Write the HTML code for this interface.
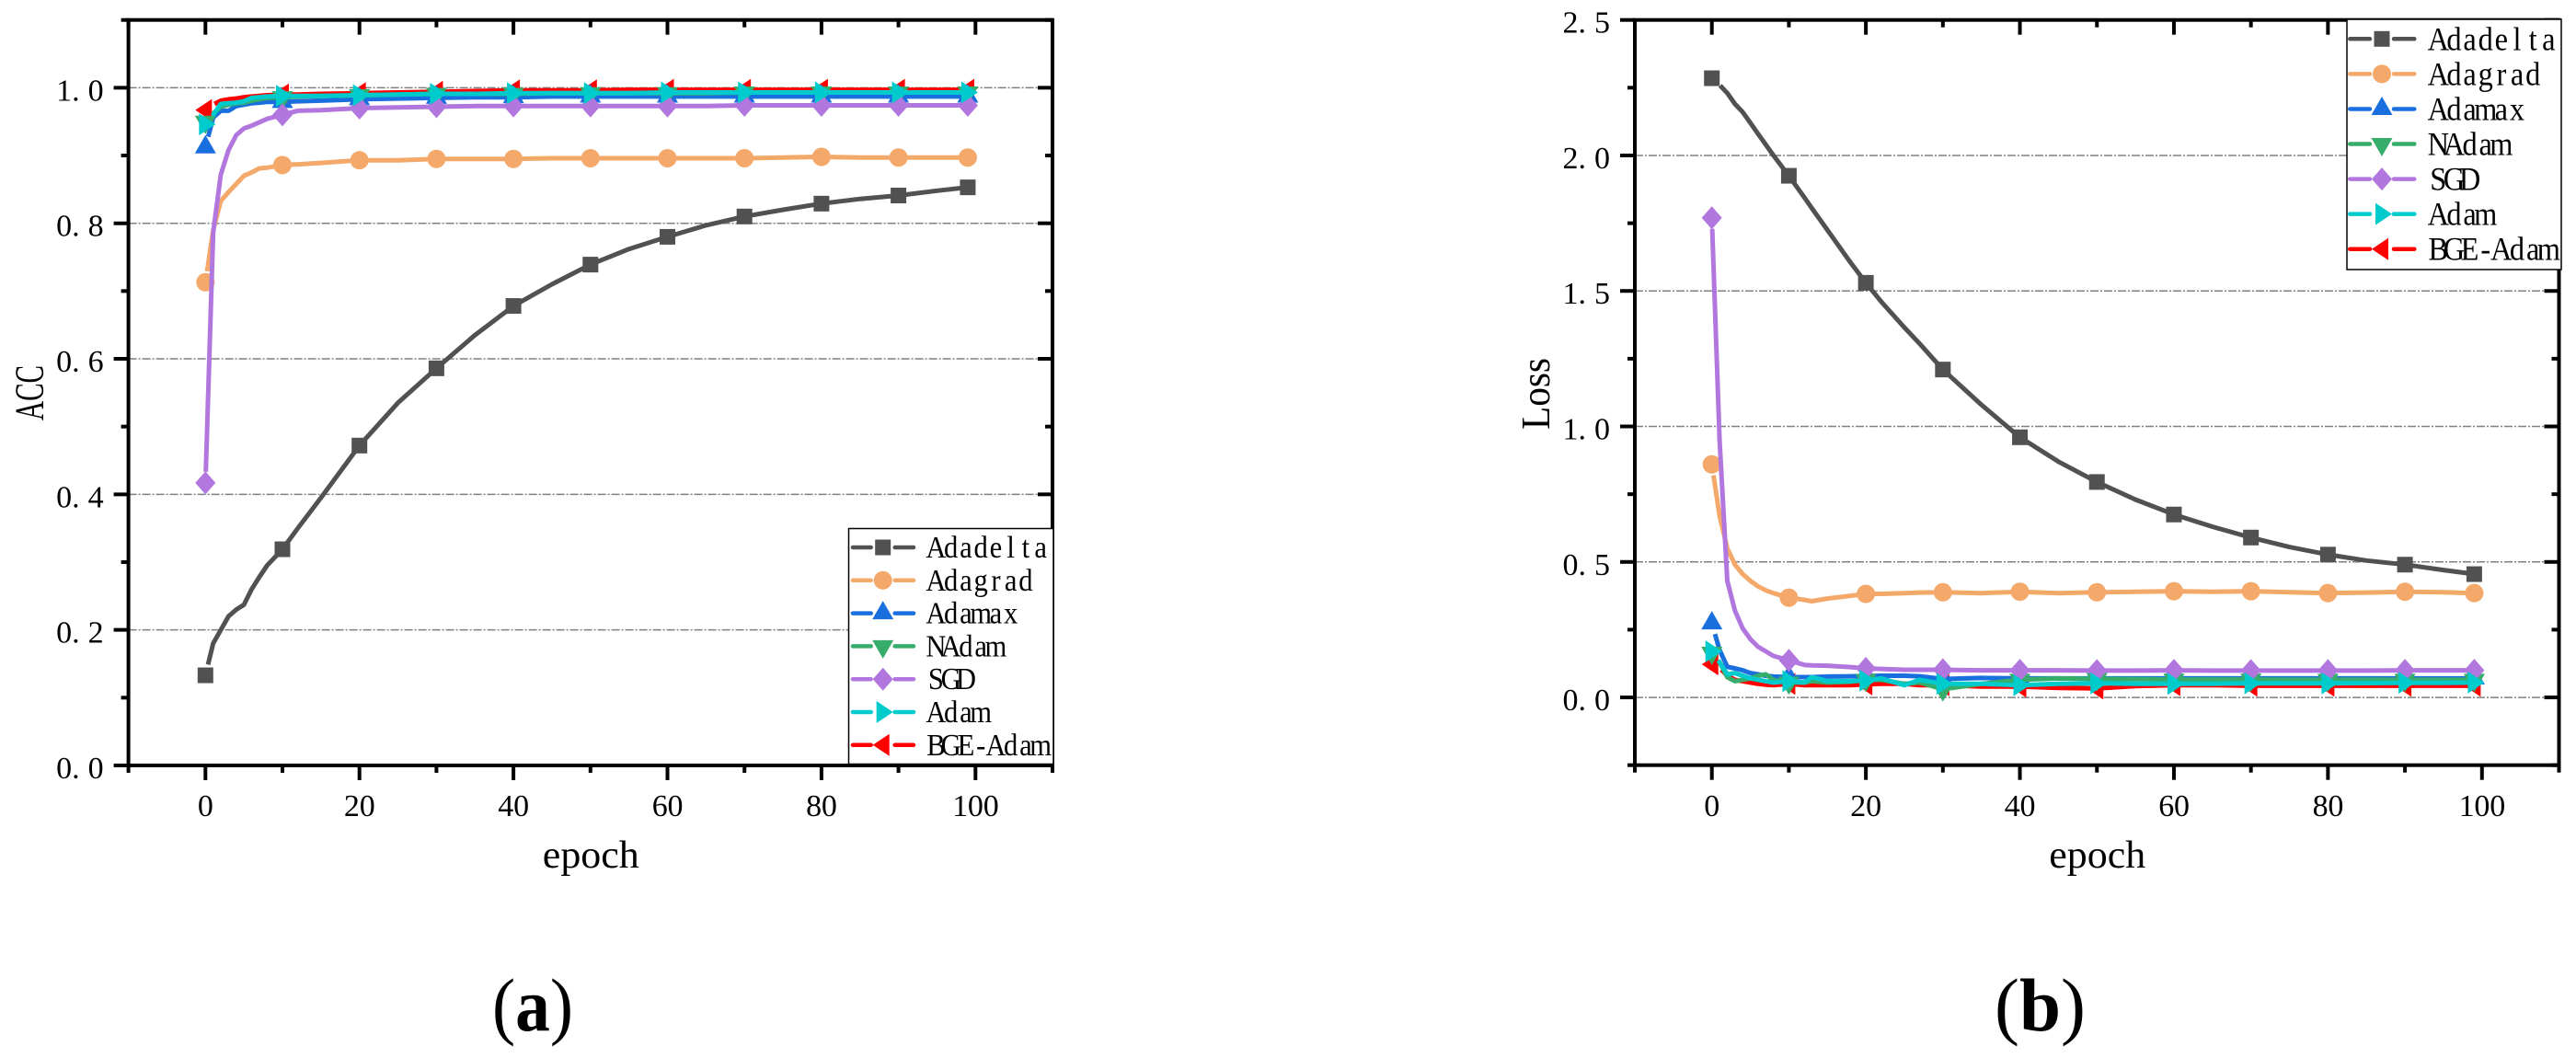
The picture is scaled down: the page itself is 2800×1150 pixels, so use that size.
<!DOCTYPE html>
<html lang="en">
<head>
<meta charset="utf-8">
<title>ACC and Loss curves per optimizer</title>
<style>
  html, body { margin: 0; padding: 0; background: #ffffff; }
  #chart-root { display: block; }
  text { font-family: "Liberation Serif", serif; fill: #000000; }
</style>
</head>
<body>
<svg id="chart-root" xmlns="http://www.w3.org/2000/svg" width="2800" height="1150" viewBox="0 0 2800 1150"></svg>
<script>
const epochsA = [0,1,2,3,4,5,6,7,8,10,12,15,20,25,30,35,40,45,50,55,60,65,70,75,80,85,90,95,99];
const epochsB = [0,1,2,3,4,5,6,7,8,10,12,13,15,18,20,22,25,27,30,35,40,45,50,55,60,65,70,75,80,85,90,95,99];
const markerEpochs = [0,10,20,30,40,50,60,70,80,90,99];

const seriesNames = ['Adadelta','Adagrad','Adamax','NAdam','SGD','Adam','BGE-Adam'];

const accAdadelta = [.133,.18,.2,.22,.23,.237,.26,.278,.295,.319,.35,.395,.472,.535,.586,.635,.678,.71,.739,.762,.78,.797,.81,.82,.829,.836,.841,.848,.853];
const accAdagrad = [.713,.79,.833,.846,.858,.87,.875,.881,.882,.886,.887,.889,.893,.893,.895,.895,.895,.896,.896,.896,.896,.896,.896,.897,.898,.897,.897,.897,.897];
const accAdamax = [.912,.956,.966,.966,.973,.975,.977,.978,.979,.979,.98,.981,.983,.984,.985,.986,.986,.987,.987,.987,.987,.987,.987,.987,.987,.987,.987,.987,.987];
const accNAdam = [.95,.962,.972,.975,.977,.978,.981,.983,.985,.986,.987,.988,.989,.99,.991,.991,.991,.992,.992,.992,.992,.992,.993,.993,.993,.993,.993,.993,.993];
const accSGD = [.417,.786,.872,.908,.93,.94,.944,.949,.954,.96,.966,.967,.97,.971,.972,.973,.973,.973,.973,.973,.973,.973,.974,.974,.974,.974,.974,.974,.974];
const accAdam = [.946,.96,.976,.977,.978,.98,.985,.986,.987,.988,.988,.988,.989,.99,.991,.991,.992,.992,.992,.992,.993,.993,.993,.993,.993,.993,.993,.993,.993];
const accBGE = [.967,.975,.981,.983,.984,.986,.987,.988,.989,.99,.99,.991,.992,.993,.994,.995,.996,.996,.996,.997,.997,.997,.997,.997,.997,.997,.997,.997,.997];

const lossAdadelta = [2.285,2.26,2.23,2.19,2.16,2.12,2.08,2.04,2.0,1.925,1.845,1.805,1.725,1.605,1.53,1.46,1.365,1.305,1.21,1.08,.96,.87,.795,.73,.675,.63,.59,.555,.527,.505,.49,.47,.455];
const lossAdagrad = [.86,.67,.55,.49,.455,.43,.41,.395,.385,.368,.36,.355,.365,.375,.382,.382,.385,.387,.388,.385,.39,.385,.388,.39,.392,.39,.392,.388,.385,.387,.39,.388,.385];
const lossAdamax = [.273,.175,.113,.107,.1,.09,.085,.08,.077,.075,.075,.075,.077,.078,.079,.08,.08,.078,.068,.072,.07,.07,.07,.07,.07,.07,.07,.07,.07,.07,.07,.07,.07];
const lossNAdam = [.165,.13,.075,.06,.065,.07,.08,.085,.065,.055,.055,.06,.055,.058,.065,.065,.05,.055,.03,.05,.065,.07,.068,.067,.066,.066,.066,.065,.065,.065,.065,.065,.065];
const lossSGD = [1.77,.95,.43,.32,.255,.215,.187,.17,.153,.137,.12,.118,.117,.112,.107,.105,.102,.102,.102,.1,.1,.1,.099,.099,.1,.099,.099,.099,.099,.099,.1,.1,.1];
const lossAdam = [.17,.13,.085,.09,.08,.07,.065,.06,.055,.06,.055,.075,.06,.06,.062,.07,.045,.065,.05,.05,.045,.05,.052,.05,.05,.05,.052,.052,.052,.053,.054,.054,.055];
const lossBGE = [.122,.11,.08,.065,.06,.055,.05,.047,.045,.05,.045,.045,.045,.045,.048,.05,.05,.045,.045,.04,.04,.035,.033,.042,.045,.045,.043,.043,.043,.043,.043,.043,.043];

const xMajorTicks = [0,20,40,60,80,100];
const xMinorTicks = [-10,10,30,50,70,90,110];
const accMajorTicks = [0,0.2,0.4,0.6,0.8,1.0];
const accMinorTicks = [0.1,0.3,0.5,0.7,0.9,1.1];
const accGridTicks = [0.2,0.4,0.6,0.8,1.0];
const lossMajorTicks = [0,0.5,1.0,1.5,2.0,2.5];
const lossMinorTicks = [-0.25,0.25,0.75,1.25,1.75,2.25];
const lossGridTicks = [0,0.5,1.0,1.5,2.0];

const svgNS = 'http://www.w3.org/2000/svg';
const root = document.getElementById('chart-root');
const colors = {'Adadelta':'#515151','Adagrad':'#F4A86A','Adamax':'#1A6FDF','NAdam':'#37AD6B','SGD':'#B177DE','Adam':'#00CBCC','BGE-Adam':'#FF0000'};
const drawOrder = ['Adadelta','Adagrad','BGE-Adam','Adamax','NAdam','SGD','Adam'];
const measureCtx = document.createElement('canvas').getContext('2d');

function make(tag, attrs, parent) {
  const node = document.createElementNS(svgNS, tag);
  for (const k in attrs) node.setAttribute(k, attrs[k]);
  parent.appendChild(node);
  return node;
}
function slug(s) { return s.toLowerCase().replace(/[^a-z0-9]+/g, '-'); }

function markerPoints(name, cx, cy) {
  if (name === 'Adamax') return [[cx,cy-13.5],[cx+11.5,cy+6.5],[cx-11.5,cy+6.5]];
  if (name === 'NAdam') return [[cx,cy+13.5],[cx+11.5,cy-6.5],[cx-11.5,cy-6.5]];
  if (name === 'SGD') return [[cx,cy-12.5],[cx+11,cy],[cx,cy+12.5],[cx-11,cy]];
  if (name === 'Adam') return [[cx-7,cy-12],[cx+11,cy],[cx-7,cy+12]];
  if (name === 'BGE-Adam') return [[cx+7,cy-12],[cx-11,cy],[cx+7,cy+12]];
  return null;
}
function drawMarker(name, cx, cy, parent) {
  const fill = colors[name];
  let node;
  if (name === 'Adadelta') {
    node = make('rect', {x:cx-8.5, y:cy-8.5, width:17, height:17, fill:fill}, parent);
  } else if (name === 'Adagrad') {
    node = make('circle', {cx:cx, cy:cy, r:10, fill:fill}, parent);
  } else {
    node = make('polygon', {points:markerPoints(name,cx,cy).map(p=>p.join(',')).join(' '), fill:fill}, parent);
  }
  
  
}
function trimStart(pts, gap) {
  let left = gap;
  for (let i = 0; i < pts.length - 1; i++) {
    const dx = pts[i+1][0]-pts[i][0], dy = pts[i+1][1]-pts[i][1];
    const len = Math.hypot(dx,dy);
    if (len > left) {
      const t = left/len;
      return [[pts[i][0]+dx*t, pts[i][1]+dy*t]].concat(pts.slice(i+1));
    }
    left -= len;
  }
  return pts;
}
function label(parent, txt, x, y, size, width, anchor) {
  const attrs = {x:x, y:y, 'font-size':size, 'text-anchor':anchor || 'start'};
  if (width) { attrs.textLength = width; attrs.lengthAdjust = 'spacingAndGlyphs'; }
  const node = make('text', attrs, parent);
  node.textContent = txt;
  return node;
}
/* Half-width cell layout: each glyph squeezed and centred in a fixed cell, like the bitmap CJK font in the figure. */
function cellLabel(parent, txt, x0, y, size, cell, squeeze) {
  measureCtx.font = size + 'px "Liberation Serif"';
  const xs = Array.from(txt).map((ch,i) => {
    const w = measureCtx.measureText(ch).width * squeeze;
    return ((x0 + i*cell + (cell-w)/2) / squeeze).toFixed(2);
  });
  const node = make('text', {x:xs.join(' '), y:y, 'font-size':size, transform:'scale(' + squeeze + ',1)'}, parent);
  node.textContent = txt;
  return node;
}

function drawPanel(p) {
  const g = make('g', {}, root);
  
  
  const sx = v => p.left + (v - (-10)) / 120 * (p.right - p.left);
  const sy = v => p.bottom - (v - p.yMin) / (p.yMax - p.yMin) * (p.bottom - p.top);

  p.grid.forEach(v => {
    const line = make('line', {x1:p.left, x2:p.right, y1:sy(v), y2:sy(v), stroke:'#808080', 'stroke-width':1.5, 'stroke-dasharray':'9 2 2 2'}, g);
    
    
  });

  drawOrder.forEach(name => {
    const values = p.series[name];
    const pts = p.epochs.map((e,i) => [sx(e), sy(values[i])]);
    const sg = make('g', {}, g);
    
    
    const line = make('polyline', {points:trimStart(pts,12).map(q=>q[0].toFixed(1)+','+q[1].toFixed(1)).join(' '), fill:'none', stroke:colors[name], 'stroke-width':5, 'stroke-linejoin':'round'}, sg);
    
    
    markerEpochs.forEach(e => {
      const i = p.epochs.indexOf(e);
      drawMarker(name, sx(e), sy(values[i]), sg);
    });
  });

  const frame = make('rect', {x:p.left, y:p.top, width:p.right-p.left, height:p.bottom-p.top, fill:'none', stroke:'#000', 'stroke-width':4}, g);
  
  

  function tick(x1,y1,x2,y2,nm) {
    const t = make('line', {x1:x1,y1:y1,x2:x2,y2:y2,stroke:'#000','stroke-width':4}, g);
    
    
  }
  xMajorTicks.forEach(v => {
    tick(sx(v),p.bottom,sx(v),p.bottom+16,'x-major-tick');
    tick(sx(v),p.top,sx(v),p.top+16,'top-major-tick');
    const txt = String(v);
    const x0 = sx(v) - txt.length * 8.4;
    const xs = Array.from(txt).map((c,i) => (x0 + i*16.8).toFixed(1)).join(' ');
    const t = make('text', {x:xs, y:887, 'font-size':34}, g);
    t.textContent = txt;
    
    
  });
  xMinorTicks.forEach(v => {
    tick(sx(v),p.bottom,sx(v),p.bottom+8,'x-minor-tick');
    tick(sx(v),p.top,sx(v),p.top+8,'top-minor-tick');
  });
  p.major.forEach(v => {
    tick(p.left-16,sy(v),p.left,sy(v),'y-major-tick');
    tick(p.right-16,sy(v),p.right,sy(v),'right-major-tick');
    const x0 = p.left - 78.5;
    const t = make('text', {x:[x0, x0+17, x0+34.5].join(' '), y:sy(v)+14, 'font-size':34}, g);
    t.textContent = v.toFixed(1);
    
    
  });
  p.minor.forEach(v => {
    tick(p.left-8,sy(v),p.left,sy(v),'y-minor-tick');
    tick(p.right-8,sy(v),p.right,sy(v),'right-minor-tick');
  });

  const xTitle = label(g, 'epoch', (p.left+p.right)/2-52, 943, 42, 105);
  
  

  const yTitle = label(g, p.yTitle, 0, 0, 44, p.yTitleLen, 'middle');
  yTitle.setAttribute('transform', 'translate(' + p.yTitleX + ',' + p.yTitleY + ') rotate(-90)');
  
  

  const lg = make('g', {}, g);
  
  
  const box = make('rect', {x:p.lgX, y:p.lgY, width:p.lgW, height:p.lgH, fill:'#fff', stroke:'#000', 'stroke-width':1.5}, lg);
  
  
  seriesNames.forEach((name,i) => {
    const y = p.lgRow0 + i * p.lgRowGap;
    const entry = make('g', {}, lg);
    
    
    [[p.lgLineX, p.lgMarkX-11],[p.lgMarkX+11, p.lgLineX+p.lgLineW]].forEach(seg => {
      const s = make('line', {x1:seg[0]+2, x2:seg[1]-2, y1:y, y2:y, stroke:colors[name], 'stroke-width':4.5, 'stroke-linecap':'round'}, entry);
      
      
    });
    drawMarker(name, p.lgMarkX, y, entry);
    const t = cellLabel(entry, name, p.lgTextX, y + p.lgBase, p.lgFont, p.lgChar, 0.9);
    
    
  });
}

drawPanel({
  id:'acc', left:139.6, right:1144, top:21.7, bottom:832, yMin:0, yMax:1.1,
  epochs:epochsA,
  series:{'Adadelta':accAdadelta,'Adagrad':accAdagrad,'Adamax':accAdamax,'NAdam':accNAdam,'SGD':accSGD,'Adam':accAdam,'BGE-Adam':accBGE},
  grid:accGridTicks, major:accMajorTicks, minor:accMinorTicks,
  yTitle:'ACC', yTitleLen:60, yTitleX:46.7, yTitleY:427,
  lgX:922.5, lgY:574.5, lgW:222.5, lgH:256, lgRow0:595, lgRowGap:35.8,
  lgLineX:925, lgLineW:70, lgMarkX:959.7, lgTextX:1009.3, lgBase:11, lgFont:34, lgChar:16.25
});
drawPanel({
  id:'loss', left:1777, right:2781.5, top:21.7, bottom:831.7, yMin:-0.25, yMax:2.5,
  epochs:epochsB,
  series:{'Adadelta':lossAdadelta,'Adagrad':lossAdagrad,'Adamax':lossAdamax,'NAdam':lossNAdam,'SGD':lossSGD,'Adam':lossAdam,'BGE-Adam':lossBGE},
  grid:lossGridTicks, major:lossMajorTicks, minor:lossMinorTicks,
  yTitle:'Loss', yTitleLen:78, yTitleX:1684, yTitleY:428,
  lgX:2551, lgY:21, lgW:233, lgH:272, lgRow0:42.3, lgRowGap:38.07,
  lgLineX:2552.3, lgLineW:74, lgMarkX:2589, lgTextX:2641.7, lgBase:12, lgFont:36, lgChar:17.15
});

function caption(letter, x, width, nm) {
  const t = make('text', {x:x, y:1120, 'font-size':82, textLength:width, lengthAdjust:'spacingAndGlyphs'}, root);
  t.appendChild(document.createTextNode('('));
  const b = make('tspan', {'font-weight':'bold'}, t);
  b.textContent = letter;
  t.appendChild(document.createTextNode(')'));
  
  
}
caption('a', 535, 88, 'panel-a-caption');
caption('b', 2168, 99, 'panel-b-caption');
</script>
</body>
</html>
